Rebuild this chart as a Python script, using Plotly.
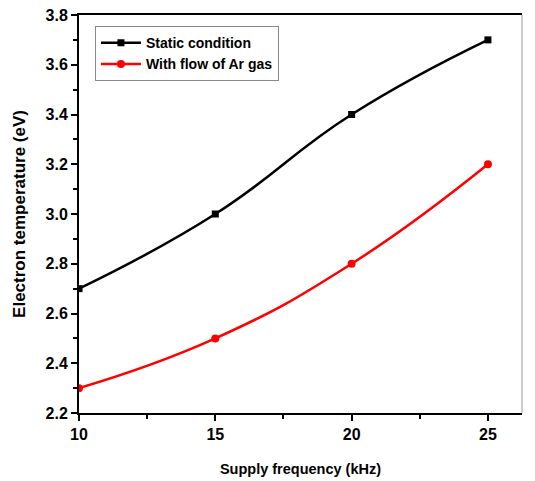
import plotly.graph_objects as go

freq = [10, 15, 20, 25]
static_te = [2.7, 3.0, 3.4, 3.7]
argon_te = [2.3, 2.5, 2.8, 3.2]
names = ["Static condition", "With flow of Ar gas"]

fig = go.Figure()
fig.add_trace(go.Scatter(x=freq, y=static_te, mode="lines+markers", name=names[0],
                         line=dict(color="black", width=2.5, shape="spline", smoothing=1.3),
                         marker=dict(symbol="square", size=7, color="black")))
fig.add_trace(go.Scatter(x=freq, y=argon_te, mode="lines+markers", name=names[1],
                         line=dict(color="#ff0000", width=2.5, shape="spline", smoothing=1.3),
                         marker=dict(symbol="circle", size=8, color="#ff0000")))

font_family = "Liberation Sans, Arial, sans-serif"
fig.update_layout(
    width=535, height=481,
    margin=dict(l=79, r=13, t=15, b=68, autoexpand=False),
    paper_bgcolor="white", plot_bgcolor="white",
    font=dict(family=font_family, color="black"),
    showlegend=True,
    legend=dict(x=0.036, y=0.972, xanchor="left", yanchor="top",
                bgcolor="white", bordercolor="#888888", borderwidth=1,
                font=dict(size=14, family=font_family, weight="bold"),
                tracegroupgap=0, itemwidth=40),
    xaxis=dict(range=[10, 26.25], tickvals=[10, 15, 20, 25], automargin=False,
               ticks="outside", ticklen=6, tickwidth=1.5, tickcolor="black",
               minor=dict(tickvals=[12.5, 17.5, 22.5], ticks="outside", ticklen=4, tickcolor="black", tickwidth=1.5),
               showline=True, linecolor="black", linewidth=2, mirror=True,
               showgrid=False, zeroline=False,
               tickfont=dict(size=16, family=font_family, weight="bold"),
               title=dict(text="Supply frequency (kHz)", font=dict(size=14.5, family=font_family, weight="bold"), standoff=22)),
    yaxis=dict(range=[2.2, 3.8], tickvals=[2.2, 2.4, 2.6, 2.8, 3.0, 3.2, 3.4, 3.6, 3.8], automargin=False,
               ticktext=["2.2", "2.4", "2.6", "2.8", "3.0", "3.2", "3.4", "3.6", "3.8"],
               ticks="outside", ticklen=6, tickwidth=1.5, tickcolor="black",
               minor=dict(dtick=0.1, ticks="outside", ticklen=4, tickcolor="black", tickwidth=1.5),
               showline=True, linecolor="black", linewidth=2, mirror=False,
               showgrid=False, zeroline=False,
               tickfont=dict(size=16, family=font_family, weight="bold"),
               title=dict(text="Electron temperature (eV)", font=dict(size=17, family=font_family, weight="bold"), standoff=16)),
    shapes=[dict(type="line", xref="paper", yref="paper", x0=1, x1=1, y0=0, y1=1,
                 line=dict(color="#999999", width=1))],
)

fig.write_html("out.html")
